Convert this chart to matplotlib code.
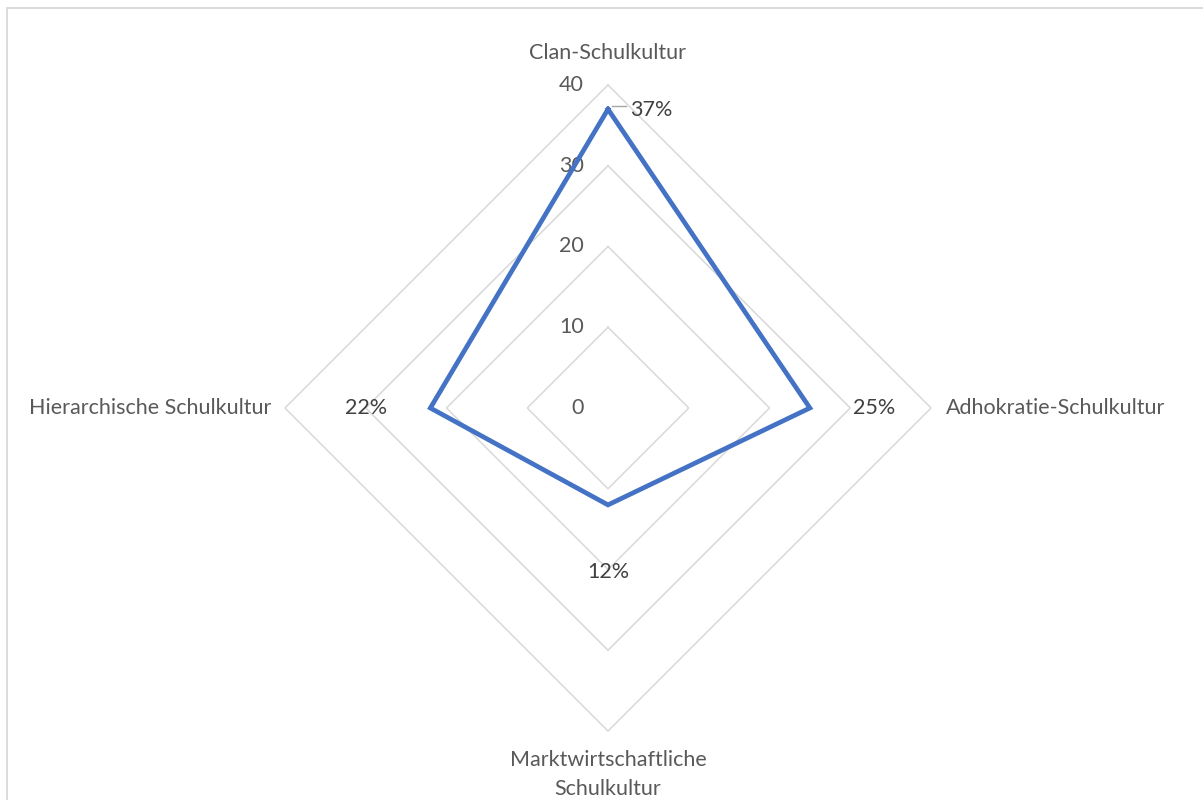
import numpy as np
import matplotlib.pyplot as plt
from matplotlib.patches import Rectangle

plt.rcParams['font.family'] = ['Lato', 'DejaVu Sans']

# Daten
kategorien = ['Clan-Schulkultur', 'Adhokratie-Schulkultur',
              'Marktwirtschaftliche\nSchulkultur', 'Hierarchische Schulkultur']
werte = [37, 25, 12, 22]
ring_ticks = [0, 10, 20, 30, 40]
rmax = 40

W, H = 1203, 800
cx, cy = 608, 408          # Mittelpunkt in Pixel
px_per_unit = 323 / rmax
fs = 15.5

fig = plt.figure(figsize=(W / 100, H / 100), dpi=100)
ax = fig.add_axes([0, 0, 1, 1])
ax.set_xlim(-cx / px_per_unit, (W - cx) / px_per_unit)
ax.set_ylim(-(H - cy) / px_per_unit, cy / px_per_unit)
ax.axis('off')

# Winkel: oben, rechts, unten, links
winkel = np.pi / 2 - np.arange(len(kategorien)) * 2 * np.pi / len(kategorien)
ux, uy = np.cos(winkel), np.sin(winkel)

grid_col = '#D9D9D9'
for r in ring_ticks[1:]:
    xs = np.append(ux * r, ux[0] * r)
    ys = np.append(uy * r, uy[0] * r)
    ax.plot(xs, ys, color=grid_col, lw=1.1, zorder=1)

# Achsenbeschriftung 0..40
for r in ring_ticks:
    ax.text(-24 / px_per_unit, r, str(r), ha='right', va='center',
            fontsize=fs, color='#595959')

# Datenreihe
w = np.array(werte, dtype=float)
xs = np.append(ux * w, ux[0] * w[0])
ys = np.append(uy * w, uy[0] * w[0])
ax.plot(xs, ys, color='#4472C4', lw=3.4, solid_joinstyle='miter', zorder=3)

# Datenbeschriftungen
u = 1 / px_per_unit
lab_col = '#404040'
ax.plot([4 * u, 18 * u], [werte[0] + 0.4, werte[0] + 0.4], color='#A6A6A6', lw=1)
ax.text(22 * u, werte[0] - 0.05, f'{werte[0]}%', ha='left', va='center', fontsize=fs, color=lab_col)
ax.text(werte[1] + 64 * u, 0, f'{werte[1]}%', ha='center', va='center', fontsize=fs, color=lab_col)
ax.text(0, -werte[2] - 67 * u, f'{werte[2]}%', ha='center', va='center', fontsize=fs, color=lab_col)
ax.text(-werte[3] - 64 * u, 0, f'{werte[3]}%', ha='center', va='center', fontsize=fs, color=lab_col)

# Kategorien
kat_col = '#595959'
ax.text(0, rmax + 32 * u, kategorien[0], ha='center', va='center', fontsize=fs, color=kat_col)
ax.text(rmax + 15 * u, 0, kategorien[1], ha='left', va='center', fontsize=fs, color=kat_col)
zeile1, zeile2 = kategorien[2].split('\n')
ax.text(0, -rmax - 29 * u, zeile1, ha='center', va='center', fontsize=fs, color=kat_col)
ax.text(0, -rmax - 58 * u, zeile2, ha='center', va='center', fontsize=fs, color=kat_col)
ax.text(-rmax - 14 * u, 0, kategorien[3], ha='right', va='center', fontsize=fs, color=kat_col)

# Rahmen des Diagrammbereichs
fig.patches.append(Rectangle((7 / W, -0.1), 1.2, (H - 8) / H + 0.1, transform=fig.transFigure,
                             fill=False, edgecolor=grid_col, lw=1.3))

fig.savefig('out.png', dpi=100, facecolor='white')
